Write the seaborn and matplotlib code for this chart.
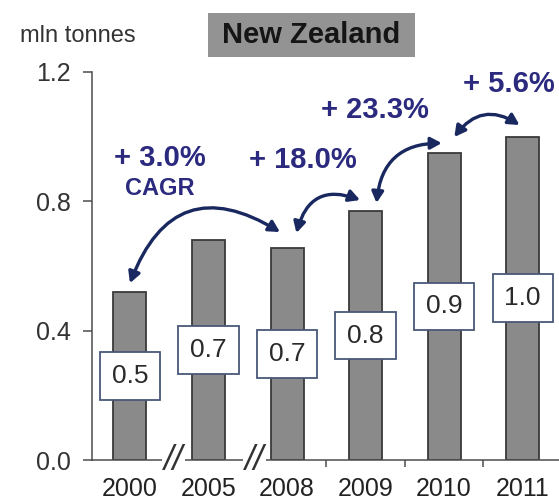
import pandas as pd
import matplotlib.pyplot as plt
import seaborn as sns
from matplotlib.patches import Rectangle

# 数据
years = ['2000', '2005', '2008', '2009', '2010', '2011']
volumes = [0.52, 0.68, 0.656, 0.77, 0.95, 1.0]
value_labels = ['0.5', '0.7', '0.7', '0.8', '0.9', '1.0']
growth_labels = ['+ 3.0%', '+ 18.0%', '+ 23.3%', '+ 5.6%']

sns.set_style('white')
plt.rcParams['font.family'] = ['Liberation Sans', 'DejaVu Sans']

df = pd.DataFrame({'year': years, 'volume': volumes})

fig = plt.figure(figsize=(5.59, 5.01), dpi=100)
ax = fig.add_axes([0.1646, 0.0818, 0.835, 0.7745])

sns.barplot(data=df, x='year', y='volume', ax=ax, color='#8a8a8a',
            saturation=1, width=0.42, edgecolor='#3a3a3a', linewidth=1.3)

ax.set_xlim(-0.483, 5.46)
ax.set_ylim(0, 1.2)
ax.set_yticks([0.0, 0.4, 0.8, 1.2])
ax.set_yticklabels(['0.0', '0.4', '0.8', '1.2'])
ax.set_xlabel('')
ax.set_ylabel('')
ax.tick_params(axis='y', length=6.5, width=1.1, color='#4d4d4d', pad=9,
               labelsize=18, labelcolor='#333333', left=True)
ax.tick_params(axis='x', length=0, pad=12, labelsize=18, labelcolor='#222222')
ax.set_xticks([2.5, 3.5, 4.5], minor=True)
ax.tick_params(axis='x', which='minor', length=5, width=1.1, color='#4d4d4d', bottom=True)
for side in ['top', 'right']:
    ax.spines[side].set_visible(False)
for side in ['left', 'bottom']:
    ax.spines[side].set_color('#4d4d4d')
    ax.spines[side].set_linewidth(1.1)

# 数值标签（白框）
for i, (v, lab) in enumerate(zip(volumes, value_labels)):
    ax.text(i, v * 0.5, lab, ha='center', va='center', fontsize=19, color='#2a2a2a',
            bbox=dict(boxstyle='square,pad=0.45', facecolor='white', edgecolor='#4a5878', linewidth=1.3),
            zorder=5)

# 断轴标记
for xb in [0.55, 1.59]:
    ax.text(xb, 0, '//', ha='center', va='center', fontsize=25, fontstyle='italic',
            color='#333333', transform=ax.transData, clip_on=False, zorder=6,
            bbox=dict(boxstyle='square,pad=0.05', facecolor='white', edgecolor='none'))

# 增长率弧形箭头
arrows = [((0.0, 0.547), (1.91, 0.705), -0.6),
          ((2.12, 0.702), (2.93, 0.804), -0.55),
          ((3.14, 0.795), (3.97, 0.98), -0.45),
          ((4.13, 0.999), (4.96, 1.036), -0.46)]
for start, end, rad in arrows:
    ax.annotate('', xy=end, xytext=start,
                arrowprops=dict(arrowstyle='<|-|>,head_length=0.65,head_width=0.35',
                                color='#1a2860', lw=2.4,
                                connectionstyle=f'arc3,rad={rad}',
                                shrinkA=0, shrinkB=0))

navy = '#2b2a7e'
ax.text(0.38, 0.934, growth_labels[0], ha='center', va='center', fontsize=21,
        fontweight='bold', color=navy)
ax.text(0.38, 0.841, 'CAGR', ha='center', va='center', fontsize=17,
        fontweight='bold', color=navy)
ax.text(2.2, 0.928, growth_labels[1], ha='center', va='center', fontsize=21,
        fontweight='bold', color=navy)
ax.text(3.12, 1.083, growth_labels[2], ha='center', va='center', fontsize=21,
        fontweight='bold', color=navy)
ax.text(4.24, 1.163, growth_labels[3], ha='left', va='center', fontsize=21,
        fontweight='bold', color=navy, clip_on=False)

# 标题框
fig.patches.append(Rectangle((0.372, 0.886), 0.370, 0.0878, transform=fig.transFigure,
                             facecolor='#939393', edgecolor='none'))
fig.text(0.556, 0.930, 'New Zealand', ha='center', va='center', fontsize=21,
         fontweight='bold', color='#151515')
fig.text(0.036, 0.928, 'mln tonnes', ha='left', va='center', fontsize=17, color='#333333')

fig.savefig('out.png', dpi=100)
